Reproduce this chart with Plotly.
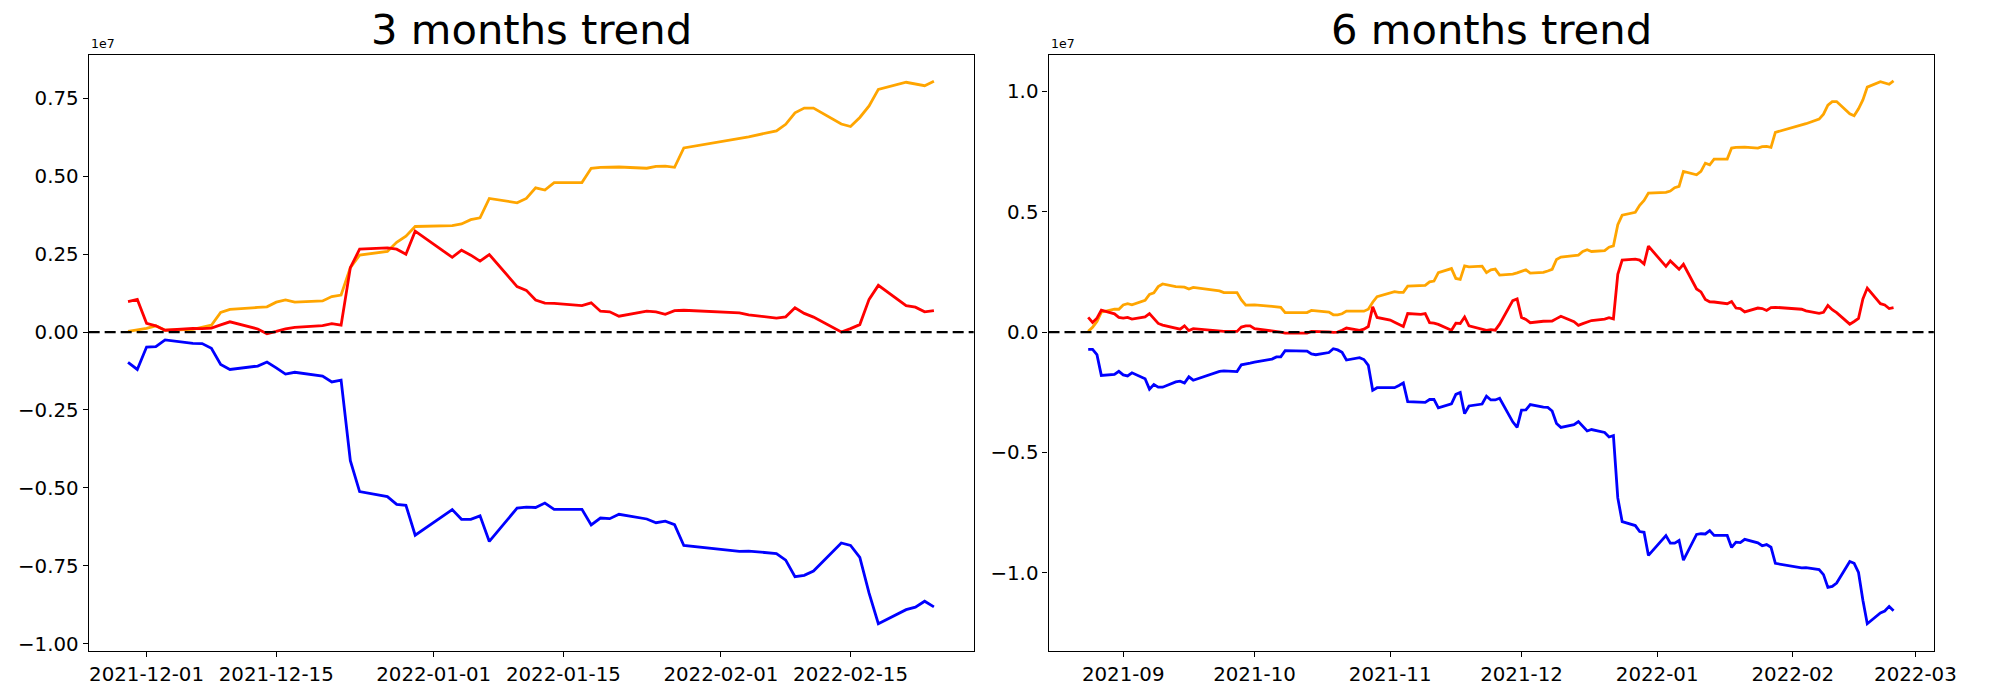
import pandas as pd
import plotly.graph_objects as go

# ---------------- data (values in units of 1e7) ----------------
SCALE = 1e7
KRX_HOLIDAYS = ["2021-09-20", "2021-09-21", "2021-09-22", "2021-10-04", "2021-10-11",
                "2021-12-31", "2022-01-31", "2022-02-01", "2022-02-02"]

dates_3m = pd.bdate_range("2021-11-29", "2022-02-24", freq="C", holidays=KRX_HOLIDAYS)
dates_6m = pd.bdate_range("2021-08-24", "2022-02-24", freq="C", holidays=KRX_HOLIDAYS)

orange_3m = [0.002, 0.007, 0.012, 0.020, 0.006, 0.009, 0.015, 0.022, 0.063, 0.073,
             0.079, 0.081, 0.096, 0.103, 0.096, 0.100, 0.114, 0.119, 0.207, 0.247,
             0.259, 0.288, 0.308, 0.339, 0.342, 0.347, 0.361, 0.367, 0.429, 0.415,
             0.429, 0.463, 0.456, 0.480, 0.480, 0.526, 0.529, 0.530, 0.530, 0.526,
             0.532, 0.533, 0.529, 0.591, 0.621, 0.627, 0.646, 0.667, 0.704, 0.719,
             0.719, 0.668, 0.660, 0.689, 0.726, 0.779, 0.802, 0.797, 0.791, 0.805]
red_3m = [0.098, 0.105, 0.028, 0.020, 0.006, 0.012, 0.011, 0.013, 0.023, 0.033,
          0.010, -0.005, 0.002, 0.010, 0.015, 0.021, 0.027, 0.022, 0.207, 0.266,
          0.270, 0.266, 0.250, 0.324, 0.240, 0.263, 0.247, 0.228, 0.249, 0.146,
          0.134, 0.103, 0.093, 0.092, 0.085, 0.094, 0.067, 0.065, 0.051, 0.067,
          0.065, 0.057, 0.069, 0.070, 0.062, 0.055, 0.045, 0.049, 0.078, 0.060,
          0.048, 0.000, 0.011, 0.024, 0.105, 0.150, 0.085, 0.080, 0.065, 0.069]
blue_3m = [-0.097, -0.120, -0.048, -0.047, -0.025, -0.036, -0.037, -0.052, -0.104, -0.120,
           -0.109, -0.096, -0.115, -0.135, -0.129, -0.141, -0.160, -0.154, -0.413, -0.512,
           -0.528, -0.553, -0.556, -0.652, -0.570, -0.601, -0.601, -0.590, -0.672, -0.565,
           -0.562, -0.563, -0.549, -0.569, -0.569, -0.619, -0.597, -0.599, -0.585, -0.600,
           -0.612, -0.607, -0.618, -0.685, -0.704, -0.703, -0.711, -0.732, -0.785, -0.781,
           -0.767, -0.677, -0.685, -0.723, -0.838, -0.936, -0.891, -0.883, -0.864, -0.882]

orange_6m = [0.003, 0.020, 0.044, 0.083, 0.095, 0.095, 0.113, 0.118, 0.113, 0.132,
             0.157, 0.163, 0.189, 0.200, 0.189, 0.187, 0.187, 0.179, 0.186, 0.171,
             0.164, 0.164, 0.134, 0.112, 0.112, 0.113, 0.107, 0.106, 0.103, 0.081,
             0.081, 0.081, 0.090, 0.088, 0.083, 0.072, 0.072, 0.076, 0.087, 0.087,
             0.087, 0.095, 0.124, 0.147, 0.163, 0.168, 0.165, 0.165, 0.191, 0.194,
             0.194, 0.209, 0.212, 0.247, 0.264, 0.223, 0.219, 0.275, 0.271, 0.274,
             0.247, 0.259, 0.262, 0.237,
             0.241, 0.246, 0.251, 0.259, 0.245, 0.248, 0.254, 0.261, 0.302, 0.312,
             0.318, 0.320, 0.335, 0.342, 0.335, 0.339, 0.353, 0.358, 0.446, 0.486,
             0.498, 0.527, 0.547, 0.578, 0.581, 0.586, 0.600, 0.606, 0.668, 0.654,
             0.668, 0.702, 0.695, 0.719, 0.719, 0.765, 0.768, 0.769, 0.769, 0.765,
             0.771, 0.772, 0.768, 0.830, 0.860, 0.866, 0.885, 0.906, 0.943, 0.958,
             0.958, 0.907, 0.899, 0.928, 0.965, 1.018, 1.041, 1.036, 1.030, 1.044]
red_6m = [0.061, 0.040, 0.058, 0.091, 0.076, 0.061, 0.058, 0.061, 0.054, 0.063,
          0.077, 0.056, 0.036, 0.029, 0.018, 0.012, 0.026, 0.006, 0.014, 0.003,
          0.003, 0.003, 0.021, 0.026, 0.026, 0.014, 0.006, 0.003, 0.000, -0.004,
          -0.004, -0.004, 0.003, 0.003, 0.001, -0.001, 0.000, 0.008, 0.017, 0.007,
          0.012, 0.023, 0.105, 0.061, 0.050, 0.041, 0.033, 0.023, 0.077, 0.074,
          0.077, 0.039, 0.037, 0.032, 0.008, 0.037, 0.036, 0.063, 0.026, 0.014,
          0.007, 0.010, 0.008, 0.033,
          0.131, 0.138, 0.061, 0.053, 0.039, 0.045, 0.044, 0.046, 0.056, 0.066,
          0.043, 0.028, 0.035, 0.043, 0.048, 0.054, 0.060, 0.055, 0.240, 0.299,
          0.303, 0.299, 0.283, 0.357, 0.273, 0.296, 0.280, 0.261, 0.282, 0.179,
          0.167, 0.136, 0.126, 0.125, 0.118, 0.127, 0.100, 0.098, 0.084, 0.100,
          0.098, 0.090, 0.102, 0.103, 0.095, 0.088, 0.078, 0.082, 0.111, 0.093,
          0.081, 0.033, 0.044, 0.057, 0.138, 0.183, 0.118, 0.113, 0.098, 0.102]
blue_6m = [-0.072, -0.072, -0.094, -0.180, -0.176, -0.163, -0.178, -0.182, -0.169, -0.194,
           -0.237, -0.218, -0.229, -0.229, -0.207, -0.204, -0.212, -0.186, -0.200, -0.163,
           -0.161, -0.164, -0.136, -0.131, -0.129, -0.125, -0.112, -0.103, -0.103, -0.077,
           -0.077, -0.079, -0.091, -0.094, -0.085, -0.069, -0.074, -0.084, -0.116, -0.106,
           -0.114, -0.138, -0.242, -0.231, -0.231, -0.231, -0.222, -0.211, -0.289, -0.291,
           -0.292, -0.280, -0.280, -0.315, -0.298, -0.259, -0.251, -0.339, -0.307, -0.299,
           -0.266, -0.282, -0.282, -0.275,
           -0.373, -0.396, -0.324, -0.323, -0.301, -0.312, -0.313, -0.328, -0.380, -0.396,
           -0.385, -0.372, -0.391, -0.411, -0.405, -0.417, -0.436, -0.430, -0.689, -0.788,
           -0.804, -0.829, -0.832, -0.928, -0.846, -0.877, -0.877, -0.866, -0.948, -0.841,
           -0.838, -0.839, -0.825, -0.845, -0.845, -0.895, -0.873, -0.875, -0.861, -0.876,
           -0.888, -0.883, -0.894, -0.961, -0.980, -0.979, -0.987, -1.008, -1.061, -1.057,
           -1.043, -0.953, -0.961, -0.999, -1.114, -1.212, -1.167, -1.159, -1.140, -1.158]

titles = ["3 months trend", "6 months trend"]
ytick_vals_3m = [-1.00, -0.75, -0.50, -0.25, 0.00, 0.25, 0.50, 0.75]
ytick_text_3m = ["\u22121.00", "\u22120.75", "\u22120.50", "\u22120.25", "0.00", "0.25", "0.50", "0.75"]
ytick_vals_6m = [-1.0, -0.5, 0.0, 0.5, 1.0]
ytick_text_6m = ["\u22121.0", "\u22120.5", "0.0", "0.5", "1.0"]
xtick_3m = ["2021-12-01", "2021-12-15", "2022-01-01", "2022-01-15", "2022-02-01", "2022-02-15"]
xtick_6m = ["2021-09", "2021-10", "2021-11", "2021-12", "2022-01", "2022-02", "2022-03"]

# ---------------- figure ----------------
W, H = 2000, 700
FONT = "DejaVu Sans"
fig = go.Figure()

def add_series(dates, o, r, b, xa, ya):
    for vals, col in ((o, "orange"), (r, "red"), (b, "blue")):
        fig.add_trace(go.Scatter(x=dates, y=[v * SCALE for v in vals], mode="lines",
                                 line=dict(color=col, width=2.8), xaxis=xa, yaxis=ya,
                                 showlegend=False, hoverinfo="skip"))

add_series(dates_3m, orange_3m, red_3m, blue_3m, "x", "y")
add_series(dates_6m, orange_6m, red_6m, blue_6m, "x2", "y2")

def px_x(p):
    return p / W

def px_y(p):
    return 1 - p / H

dom_y = [px_y(655), px_y(55)]
dom_x1 = [px_x(89.7), px_x(985)]
dom_x2 = [px_x(1060.7), px_x(1956.3)]

axis_common = dict(showline=True, linecolor="black", linewidth=1.1, mirror=True,
                   ticks="outside", ticklen=5, tickwidth=1.1, tickcolor="black",
                   showgrid=False, zeroline=False,
                   tickfont=dict(family=FONT, size=19.8, color="black"))

fig.update_layout(
    autosize=True, margin=dict(l=0, r=0, t=0, b=0),
    paper_bgcolor="white", plot_bgcolor="white",
    xaxis=dict(domain=dom_x1, anchor="y", type="date",
               range=["2021-11-24 18:00", "2022-02-28 07:00"],
               tickvals=xtick_3m, ticktext=xtick_3m, **axis_common),
    yaxis=dict(domain=dom_y, anchor="x", range=[-1.0246 * SCALE, 0.8905 * SCALE],
               tickvals=[v * SCALE for v in ytick_vals_3m], ticktext=ytick_text_3m,
               **axis_common),
    xaxis2=dict(domain=dom_x2, anchor="y2", type="date",
                range=["2021-08-14 22:20", "2022-03-05 04:50"],
                tickvals=xtick_6m, ticktext=xtick_6m, **axis_common),
    yaxis2=dict(domain=dom_y, anchor="x2", range=[-1.3264 * SCALE, 1.1529 * SCALE],
                tickvals=[v * SCALE for v in ytick_vals_6m], ticktext=ytick_text_6m,
                **axis_common),
)

for xa, ya in (("x", "y"), ("x2", "y2")):
    fig.add_shape(type="line", xref=f"{xa} domain", yref=ya, x0=0, x1=1, y0=0, y1=0,
                  line=dict(color="black", width=2.1, dash="11px,5px"), layer="above")

for dom, t in ((dom_x1, titles[0]), (dom_x2, titles[1])):
    fig.add_annotation(x=(dom[0] + dom[1]) / 2, y=px_y(56), xref="paper", yref="paper",
                       text=t, showarrow=False, xanchor="center", yanchor="bottom",
                       font=dict(family=FONT, size=41.7, color="black"))
    fig.add_annotation(x=dom[0], y=px_y(53), xref="paper", yref="paper", text="1e7",
                       showarrow=False, xanchor="left", yanchor="bottom",
                       font=dict(family=FONT, size=12.5, color="black"))

POST = ("document.documentElement.style.margin='0';"
        "document.documentElement.style.overflow='hidden';"
        "document.body.style.margin='0';document.body.style.overflow='hidden';"
        "var d=document.getElementById('{plot_id}');"
        "d.style.position='fixed';d.style.left='0px';d.style.top='0px';"
        "d.style.width='100vw';d.style.height='100vh';"
        "Plotly.Plots.resize(d);")

fig.write_html("out.html", config={"displayModeBar": False, "responsive": True},
               default_width="100vw", default_height="100vh", post_script=POST)
